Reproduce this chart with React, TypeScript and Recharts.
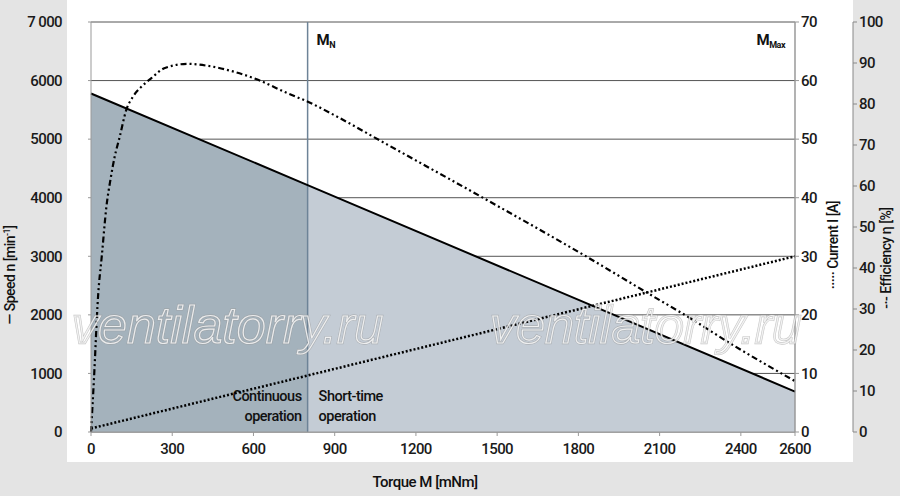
import {
  ComposedChart,
  Area,
  Line,
  XAxis,
  YAxis,
  CartesianGrid,
  ReferenceLine,
} from "recharts";

// torque M [mNm] on the x axis
const torqueTicks = [0, 300, 600, 900, 1200, 1500, 1800, 2100, 2400, 2600];
const speedTicks = [0, 1000, 2000, 3000, 4000, 5000, 6000, 7000];
const currentTicks = [0, 10, 20, 30, 40, 50, 60, 70];
const effTicks = [0, 10, 20, 30, 40, 50, 60, 70, 80, 90, 100];

const ratedTorque = 800; // M_N
const maxTorque = 2600; // M_Max

// speed n [min-1]
const speedTorque = [0, 800, 2600];
const speedValues = [5780, 4215, 690];

// current I [A]
const currentTorque = [0, 2600];
const currentValues = [0.6, 30];

// efficiency [%]
const effTorque = [
  0, 11, 26, 40, 57, 73, 87, 106, 130, 155, 186, 223, 273, 358, 432, 532, 617,
  716, 809, 912, 1078, 1462, 1832, 2053, 2212, 2371, 2600,
];
const effValues = [
  0, 13, 33, 43, 55, 62, 67, 72, 78.5, 81.8, 84.2, 86.3, 88.8, 89.8, 89.3, 87.8,
  85.9, 82.9, 80.3, 76.8, 70.7, 56.6, 42.7, 34, 27.8, 21.2, 12.4,
];

const FONT = "Roboto, 'DejaVu Sans Condensed', sans-serif";

const keys = Array.from(
  new Set([...speedTorque, ...currentTorque, ...effTorque])
).sort((a, b) => a - b);

const table = keys.map((t) => {
  const row: Record<string, number | null> = {
    torque: t,
    speed: null,
    speedCont: null,
    speedShort: null,
    current: null,
    eff: null,
  };
  const si = speedTorque.indexOf(t);
  if (si >= 0) {
    row.speed = speedValues[si];
    if (t <= ratedTorque) row.speedCont = speedValues[si];
    if (t >= ratedTorque) row.speedShort = speedValues[si];
  }
  const ci = currentTorque.indexOf(t);
  if (ci >= 0) row.current = currentValues[ci];
  const ei = effTorque.indexOf(t);
  if (ei >= 0) row.eff = effValues[ei];
  return row;
});

const tickStyle = {
  fontSize: 15,
  fill: "#1a1a1a",
  fontFamily: FONT,
  fontWeight: 500,
  letterSpacing: -0.6,
};

const labelText = {
  fontFamily: FONT,
  fontWeight: 500,
  letterSpacing: -0.5,
  fill: "#111",
};

const RatedLabel = (props: any) => {
  const { x, y } = props.viewBox;
  return (
    <g {...labelText}>
      <text x={x + 9} y={y + 23} fontSize={15} fontWeight="bold">
        M
        <tspan fontSize={9} dy={3}>
          N
        </tspan>
      </text>
      <text x={x - 6} y={y + 379} fontSize={14.5} textAnchor="end">
        Continuous
      </text>
      <text x={x - 6} y={y + 399} fontSize={14.5} textAnchor="end">
        operation
      </text>
      <text x={x + 11} y={y + 379} fontSize={14.5}>
        Short-time
      </text>
      <text x={x + 11} y={y + 399} fontSize={14.5}>
        operation
      </text>
    </g>
  );
};

const MaxLabel = (props: any) => {
  const { x, y } = props.viewBox;
  return (
    <text
      x={x - 10}
      y={y + 23}
      fontSize={15}
      {...labelText}
      fontWeight="bold"
      textAnchor="end"
    >
      M
      <tspan fontSize={9} dy={3}>
        Max
      </tspan>
    </text>
  );
};

const SpeedAxisLabel = (props: any) => {
  const { x, y, height } = props.viewBox;
  const cx = x + 15;
  const cy = y + height / 2 + 48;
  return (
    <text
      x={cx}
      y={cy}
      transform={`rotate(-90, ${cx}, ${cy})`}
      textAnchor="middle"
      fontSize={14}
      {...labelText}
    >
      — Speed n [min
      <tspan fontSize={9} dy={-5}>
        -1
      </tspan>
      <tspan dy={5}>]</tspan>
    </text>
  );
};

const CurrentAxisLabel = (props: any) => {
  const { x, y, height } = props.viewBox;
  const cx = x + 43;
  const cy = y + height / 2 + 18;
  return (
    <text
      x={cx}
      y={cy}
      transform={`rotate(-90, ${cx}, ${cy})`}
      textAnchor="middle"
      fontSize={14}
      {...labelText}
    >
      ····· Current I [A]
    </text>
  );
};

const EffAxisLabel = (props: any) => {
  const { x, y, height } = props.viewBox;
  const cx = x + 38;
  const cy = y + height / 2 + 31;
  return (
    <text
      x={cx}
      y={cy}
      transform={`rotate(-90, ${cx}, ${cy})`}
      textAnchor="middle"
      fontSize={14}
      {...labelText}
    >
      -·- Efficiency η [%]
    </text>
  );
};

export default function App() {
  return (
    <div
      style={{
        position: "absolute",
        left: 0,
        top: 0,
        width: 900,
        height: 496,
        background: "#e4e4e4",
        overflow: "hidden",
      }}
    >
      <div
        style={{
          position: "absolute",
          left: 67,
          top: 0,
          width: 786,
          height: 462,
          background: "#ffffff",
        }}
      />
      <div style={{ position: "absolute", left: 0, top: 0 }}>
        <ComposedChart
          width={900}
          height={496}
          data={table}
          margin={{ top: 22, right: 0, left: 0, bottom: 0 }}
        >
          <CartesianGrid
            yAxisId="speed"
            vertical={false}
            stroke="#555"
            strokeWidth={1}
          />
          <XAxis
            dataKey="torque"
            type="number"
            domain={[0, maxTorque]}
            ticks={torqueTicks}
            height={64}
            tick={tickStyle}
            tickSize={4}
            tickMargin={7}
            stroke="#999"
            label={{
              value: "Torque M [mNm]",
              position: "insideBottom",
              offset: 9,
              dx: -18,
              fontSize: 15,
              ...labelText,
            }}
          />
          <YAxis
            yAxisId="speed"
            width={91}
            domain={[0, 7000]}
            ticks={speedTicks}
            tick={tickStyle}
            tickSize={3}
            tickMargin={26}
            stroke="#999"
            tickFormatter={(v: number) => (v === 7000 ? "7 000" : String(v))}
            label={<SpeedAxisLabel />}
          />
          <YAxis
            yAxisId="current"
            orientation="right"
            width={58}
            domain={[0, 70]}
            ticks={currentTicks}
            tick={tickStyle}
            tickSize={4}
            tickMargin={2}
            stroke="#999"
            label={<CurrentAxisLabel />}
          />
          <YAxis
            yAxisId="eff"
            orientation="right"
            width={47}
            domain={[0, 100]}
            ticks={effTicks}
            tick={tickStyle}
            tickSize={4}
            tickMargin={2}
            stroke="#888"
            label={<EffAxisLabel />}
          />
          <Area
            yAxisId="speed"
            dataKey="speedCont"
            type="linear"
            connectNulls
            stroke="none"
            fill="#a4b2bc"
            fillOpacity={1}
            isAnimationActive={false}
          />
          <Area
            yAxisId="speed"
            dataKey="speedShort"
            type="linear"
            connectNulls
            stroke="none"
            fill="#c4ccd5"
            fillOpacity={1}
            isAnimationActive={false}
          />
          <ReferenceLine
            yAxisId="speed"
            x={ratedTorque}
            stroke="#6d8397"
            strokeWidth={1.5}
            label={RatedLabel}
          />
          <ReferenceLine
            yAxisId="speed"
            x={maxTorque}
            stroke="#999"
            strokeWidth={1}
            label={MaxLabel}
          />
          <Line
            yAxisId="speed"
            dataKey="speed"
            type="linear"
            connectNulls
            stroke="#000"
            strokeWidth={2}
            dot={false}
            isAnimationActive={false}
          />
          <Line
            yAxisId="current"
            dataKey="current"
            type="linear"
            connectNulls
            stroke="#000"
            strokeWidth={2.5}
            strokeDasharray="2 2"
            dot={false}
            isAnimationActive={false}
          />
          <Line
            yAxisId="eff"
            dataKey="eff"
            type="monotone"
            connectNulls
            stroke="#000"
            strokeWidth={2.2}
            strokeDasharray="6 3 2 3 2 3"
            dot={false}
            isAnimationActive={false}
          />
        </ComposedChart>
      </div>
      <svg
        width={900}
        height={496}
        style={{ position: "absolute", left: 0, top: 0, pointerEvents: "none" }}
      >
        {[72, 490].map((x) => (
          <g
            key={x}
            fontFamily="'Liberation Sans', Arial, sans-serif"
            fontStyle="italic"
            fontSize={52}
            fill="none"
          >
            <text x={x} y={343} stroke="#9a9a9a" strokeWidth={2.4} opacity={0.55}>
              ventilatorry.ru
            </text>
            <text x={x} y={343} stroke="#ffffff" strokeWidth={1.2} opacity={0.8}>
              ventilatorry.ru
            </text>
          </g>
        ))}
      </svg>
    </div>
  );
}
